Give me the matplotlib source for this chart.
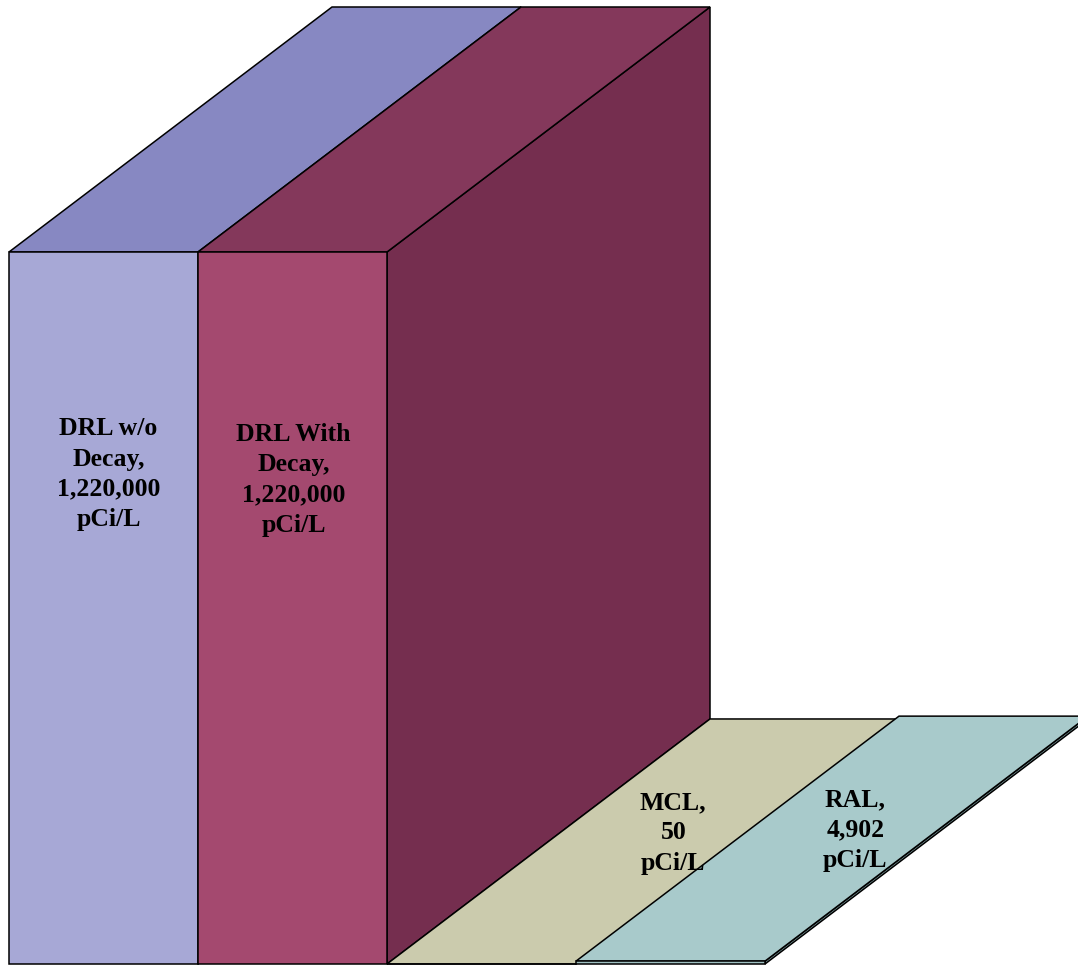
import matplotlib.pyplot as plt
from matplotlib.patches import Polygon

# data
labels = ['DRL w/o\nDecay,\n1,220,000\npCi/L', 'DRL With\nDecay,\n1,220,000\npCi/L',
          'MCL,\n50\npCi/L', 'RAL,\n4,902\npCi/L']
values = [1220000, 1220000, 50, 4902]
front_colors = ['#a7a8d6', '#a4496f', '#c4c4a4', '#9fc0c1']
top_colors = ['#8788c2', '#84385b', '#cbcbad', '#a8cacb']
side_colors = ['#6f70a8', '#752e4f', '#a9a98e', '#7e9ea0']

# geometry (pixels -> data units)
W, H = 1078, 966
bar_px = 189.0
left_px = 9.0
zero_px = 964.0            # zero line measured from top
ypx = 712.0 / 1220000.0    # pixels per value unit
dx = 323.0 / bar_px        # depth offset, in bar widths
dy = 245.0 / ypx           # depth offset, in value units

fig = plt.figure(figsize=(W / 100, H / 100), dpi=100)
ax = fig.add_axes([0, 0, 1, 1])
ax.set_xlim(-left_px / bar_px - 0.5, (W - left_px) / bar_px - 0.5)
ax.set_ylim(-(H - zero_px) / ypx, zero_px / ypx)
ax.axis('off')

lw = 1.1
for i, v in enumerate(values):
    x0, x1 = i - 0.5, i + 0.5
    side = [(x1, 0), (x1 + dx, dy), (x1 + dx, v + dy), (x1, v)]
    top = [(x0, v), (x1, v), (x1 + dx, v + dy), (x0 + dx, v + dy)]
    front = [(x0, 0), (x1, 0), (x1, v), (x0, v)]
    ax.add_patch(Polygon(side, closed=True, fc=side_colors[i], ec='black', lw=lw))
    ax.add_patch(Polygon(top, closed=True, fc=top_colors[i], ec='black', lw=lw))
    ax.add_patch(Polygon(front, closed=True, fc=front_colors[i], ec='black', lw=lw))

txt = dict(ha='center', va='center', fontsize=18.5, fontweight='bold',
           family='Liberation Serif', linespacing=1.4, color='black')
# tall bars: label on front face
ax.text(0 + 5 / bar_px, values[0] * 0.688, labels[0], **txt)
ax.text(1 + 1 / bar_px, values[1] * 0.68, labels[1], **txt)
# flat bars: label lies on top face
for i, shift in [(2, 19), (3, 12)]:
    t = 0.535
    ax.text(i + dx * t + shift / bar_px, values[i] + dy * t, labels[i], **txt)

fig.savefig('out.png', dpi=100)
